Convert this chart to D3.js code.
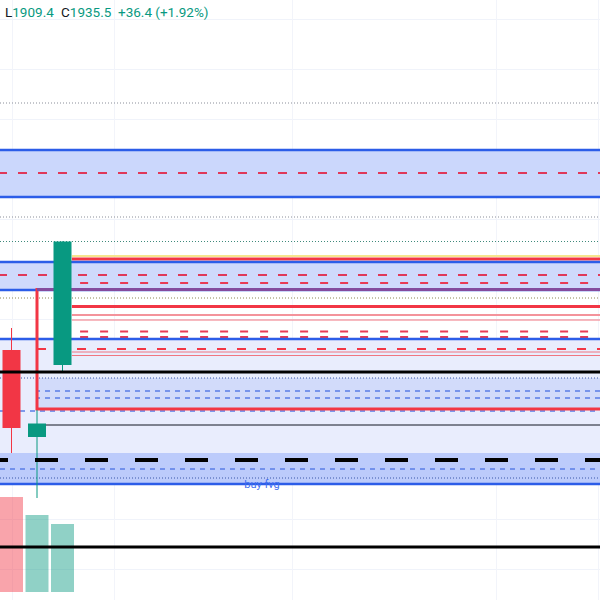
<!DOCTYPE html>
<html>
<head>
<meta charset="utf-8">
<script src="https://cdn.jsdelivr.net/npm/d3@7/dist/d3.min.js"></script>
<style>
  body { margin: 0; background: #fff; }
  svg { display: block; }
</style>
</head>
<body>
<script>
// candles (bar index, OHLC) and volume
const bars   = [0, 1, 2];
const open   = [1913.8, 1896.4, 1910.8];
const high   = [1918.2, 1901.8, 1935.5];
const low    = [1893.2, 1884.2, 1909.4];
const close  = [1898.2, 1899.1, 1935.5];
const volume = [19.0, 15.4, 13.6];

// legend
const legendLow = "1909.4";
const legendClose = "1935.5";
const legendChange = "+36.4 (+1.92%)";

// time grid (bar index)
const timeGridBars = [0, 4, 11, 19, 23];

// zones: top / bottom price, first bar
const zoneTop    = [1953.8, 1931.4, 1916.0, 1908.2, 1893.2];
const zoneBottom = [1944.4, 1925.8, 1887.0, 1901.8, 1887.0];
const zoneFrom   = [-1, -1, -1, 1, -1];
const zoneLabel  = ["", "", "", "", "buy fvg"];

// horizontal levels running in from the left edge
const blueLevels      = [1953.8, 1944.4, 1931.4, 1925.8, 1916.0, 1887.0];
const redDashLevels   = [1949.2, 1928.8];
const blueDashLevels  = [1901.6, 1890.0];
const blueDotLevels   = [1908.2, 1888.2];
const grayDotLevels   = [1963.2, 1940.4];
const oliveDotLevels  = [1924.2];
const blackLevels     = [1909.4, 1874.4];
const blackDashLevels = [1891.8];

// levels that start at a later bar
const yellowLevels      = [1932.6];   // from bar 2.37
const redSolidLevels    = [1932.0, 1922.5];
const pinkLevels        = [1920.8];
const thinRedLevels     = [1919.8, 1913.4, 1912.7];
const redDashLateLevels = [1927.2, 1917.5, 1916.4]; // from bar 2.69
const redDashBoxLevels  = [1914.0];   // from bar 1
const blueDashBoxLevels = [1905.6, 1904.2];
const thinBlackLevels   = [1898.8];   // from bar 1.35
const boxTop = 1925.9, boxBottom = 1902.0, boxFrom = 1;

const width = 600, height = 600;

let y = d3.scaleLinear().domain([1863.8, 1983.8]).range([height, 0]);
let x = d3.scaleLinear().domain([0, 2]).range([11.5, 62.5]);
let v = d3.scaleLinear().domain([0, 24]).range([592, 472]);

let svg = d3.select('body').append('svg')
            .attr('width', width)
            .attr('height', height);

// grid
svg.append('g').selectAll('line')
   .data(y.ticks(12)).enter().append('line')
   .attr('x1', 0).attr('x2', width)
   .attr('y1', d => Math.round(y(d)) + 0.5).attr('y2', d => Math.round(y(d)) + 0.5)
   .attr('stroke', '#f0f3fa');
svg.append('g').selectAll('line')
   .data(timeGridBars).enter().append('line')
   .attr('y1', 0).attr('y2', height)
   .attr('x1', d => Math.round(x(d)) + 0.5).attr('x2', d => Math.round(x(d)) + 0.5)
   .attr('stroke', '#f2f4fa');

// zone fills
const zoneFill = ['#cbd7fc', '#cfd9fc', '#e9edfd', '#d2dbfa', '#bccbfb'];
svg.append('g').selectAll('rect')
   .data(zoneTop).enter().append('rect')
   .attr('x', (d, i) => Math.max(0, x(zoneFrom[i])))
   .attr('width', (d, i) => width - Math.max(0, x(zoneFrom[i])))
   .attr('y', d => y(d))
   .attr('height', (d, i) => y(zoneBottom[i]) - y(d))
   .attr('fill', (d, i) => zoneFill[i]);

// volume
svg.append('g').selectAll('rect')
   .data(bars).enter().append('rect')
   .attr('x', i => x(i) - 11.5)
   .attr('width', 23)
   .attr('y', i => v(volume[i]))
   .attr('height', i => v(0) - v(volume[i]))
   .attr('fill', i => close[i] >= open[i] ? 'rgba(8,153,129,0.45)' : 'rgba(242,54,69,0.45)');

function hlines(levels, fromBar, stroke, w, dash, offset) {
  let g = svg.append('g');
  g.selectAll('line')
   .data(levels).enter().append('line')
   .attr('x1', Math.max(0, x(fromBar)))
   .attr('x2', width)
   .attr('y1', d => y(d)).attr('y2', d => y(d))
   .attr('stroke', stroke)
   .attr('stroke-width', w)
   .attr('stroke-dasharray', dash || null)
   .attr('stroke-dashoffset', offset || 0);
  return g;
}

hlines(grayDotLevels, -1, '#8a8e99', 1, '1,2');
hlines([close[2]], -1, '#3f8a7c', 1, '1,2');
hlines(oliveDotLevels, -1, '#8c8656', 1, '1,2');
hlines(blueDotLevels, -1, '#3a56a8', 1, '1,2');
hlines(blueDashLevels, -1, '#5a7ee6', 1.5, '5,5');
hlines(blueDashBoxLevels, boxFrom, '#5a7ee6', 1.5, '5,5', 2);
hlines(redDashLevels, -1, '#e0385a', 2, '9,11', 2);
hlines(redDashLateLevels, 2.69, '#e83a55', 2, '8,12');
hlines(redDashBoxLevels, boxFrom, '#f23645', 2, '9,11');
hlines(yellowLevels, 2.37, '#f6e58d', 2);
hlines(redSolidLevels, 2.37, '#f23645', 3);
hlines(pinkLevels, 2.37, '#f4939b', 2);
hlines(thinRedLevels, 2.37, '#f07580', 1);
hlines(blueLevels, -1, '#2c5de8', 2.5);

// red box
svg.append('rect')
   .attr('x', x(boxFrom))
   .attr('y', y(boxTop))
   .attr('width', width + 10 - x(boxFrom))
   .attr('height', y(boxBottom) - y(boxTop))
   .attr('fill', 'none')
   .attr('stroke', '#f23645')
   .attr('stroke-width', 3);
// blue zone edge blending over the box top
hlines([boxTop], boxFrom, '#2c5de8', 3).attr('opacity', 0.55);

// candles
let candle = svg.append('g').selectAll('g')
   .data(bars).enter().append('g');
candle.append('line')
   .attr('x1', i => x(i)).attr('x2', i => x(i))
   .attr('y1', i => y(high[i])).attr('y2', i => y(low[i]))
   .attr('stroke', i => close[i] >= open[i] ? '#089981' : '#f23645')
   .attr('stroke-width', 1);
candle.append('rect')
   .attr('x', i => x(i) - 9)
   .attr('width', 18)
   .attr('y', i => y(Math.max(open[i], close[i])))
   .attr('height', i => Math.max(1, Math.abs(y(open[i]) - y(close[i]))))
   .attr('fill', i => close[i] >= open[i] ? '#089981' : '#f23645');

// black levels on top
hlines(blackLevels, -1, '#000', 3);
hlines(blackDashLevels, -1, '#000', 4, '23,27', 15);
hlines(thinBlackLevels, 1.35, '#131722', 1);

// zone labels
svg.append('g').selectAll('text')
   .data(zoneLabel).enter().append('text')
   .filter(d => d !== '')
   .attr('x', 262)
   .attr('y', (d, i) => y(zoneBottom[4]) + 4)
   .attr('text-anchor', 'middle')
   .attr('font-family', 'Roboto, sans-serif')
   .attr('font-size', 11)
   .attr('fill', '#3f6ef0')
   .text(d => d);

// legend
let legend = svg.append('text')
   .attr('y', 17)
   .attr('font-family', 'Roboto, sans-serif')
   .attr('font-size', 13.5);
legend.append('tspan').attr('x', 5).attr('fill', '#131722').text('L');
legend.append('tspan').attr('fill', '#089981').text(legendLow);
legend.append('tspan').attr('x', 61).attr('fill', '#131722').text('C');
legend.append('tspan').attr('fill', '#089981').text(legendClose);
legend.append('tspan').attr('x', 118).attr('fill', '#089981').text(legendChange);
</script>
</body>
</html>
